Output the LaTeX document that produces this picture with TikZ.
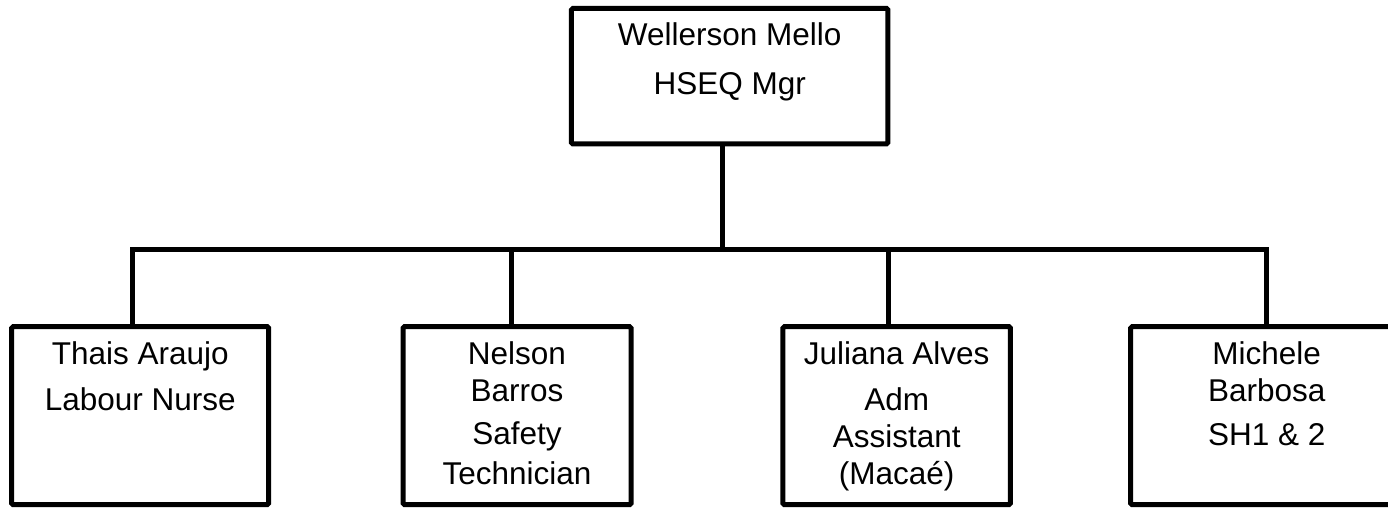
\documentclass[tikz,border=0pt]{standalone}
\usepackage{fontspec}
\setmainfont{Liberation Sans}
\usepackage{tikz}
\usetikzlibrary{calc,positioning}
\tikzset{%
  font=\fontsize{31.5}{37}\selectfont,
  staff/.style={draw,rectangle,line width=5pt,rounded corners=1.5pt,minimum height=178pt,inner sep=0pt},
  boss/.style={staff,minimum width=316.5pt,minimum height=135.5pt},
  who/.style={inner sep=0pt,anchor=base},
  link/.style={draw,line width=4.8pt,line join=miter}
}
\newcommand{\lines}[1]{\begin{tabular}[t]{@{}c@{}}#1\end{tabular}}

\begin{document}
\begin{tikzpicture}[x=1pt,y=-1pt]
	\useasboundingbox (0,0) rectangle (1388,507);
	% manager
	\node[boss] (mgr) at (729.7,76.2) {};
	\node[who] (mgr-t) at ([yshift=-39.5pt]mgr.north) {\lines{Wellerson Mello\\[12pt]HSEQ Mgr}};
	% team
	\node[staff,minimum width=257pt] (nurse) at (140.2,415.7) {};
	\node[staff,minimum width=228pt] (tech) at (517,415.7) {};
	\node[staff,minimum width=227.5pt] (adm) at (896.7,415.7) {};
	\node[staff,minimum width=272pt] (sh) at (1266.7,415.7) {};
	\node[who] (nurse-t) at ([yshift=-40pt]nurse.north) {\lines{Thais Araujo\\[9pt]Labour Nurse}};
	\node[who] (tech-t) at ([yshift=-40pt]tech.north) {\lines{Nelson\\Barros\\[6pt]Safety\\[3pt]Technician}};
	\node[who] (adm-t) at ([yshift=-40pt]adm.north) {\lines{Juliana Alves\\[9pt]Adm\\Assistant\\(Macaé)}};
	\node[who] (sh-t) at ([yshift=-40pt]sh.north) {\lines{Michele\\Barbosa\\[7pt]SH1 \& 2}};
	% connectors
	\coordinate (hub) at (722.3,249.7);
	\coordinate (d1) at (132.5,249.7);
	\coordinate (d2) at (511.5,249.7);
	\coordinate (d3) at (888.3,249.7);
	\coordinate (d4) at (1266.7,249.7);
	\draw[link] (mgr.south -| hub) -- (hub);
	\draw[link] (d1 |- nurse.north) -- (d1) -- (d4) -- (d4 |- sh.north);
	\draw[link] (d2) -- (d2 |- tech.north);
	\draw[link] (d3) -- (d3 |- adm.north);
\end{tikzpicture}
\end{document}
